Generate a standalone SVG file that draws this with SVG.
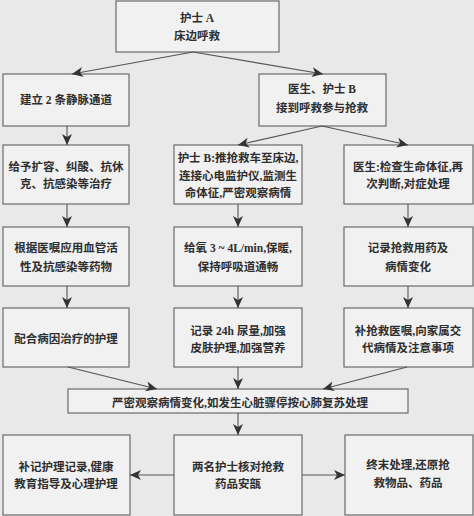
<svg xmlns="http://www.w3.org/2000/svg" width="474" height="516" viewBox="0 0 474 516">
<style>
.bx{fill:#f1f1f1;stroke:#6b6b6b;stroke-width:1.2}
.t{font-family:"Liberation Serif","Noto Sans CJK SC",serif;font-size:11.5px;fill:#2e2e2e;text-anchor:middle;font-weight:bold}
.c{stroke:#555;stroke-width:1.1;fill:none;marker-end:url(#ah)}
</style>
<defs>
<marker id="ah" markerUnits="userSpaceOnUse" markerWidth="12" markerHeight="12" viewBox="0 0 12 12" refX="11" refY="6" orient="auto">
<path d="M0,1 L11,6 L0,11 L3,6 Z" fill="#333"/>
</marker>
</defs>
<rect width="474" height="516" fill="#e9e9e9"/>
<g id="n1"><rect class="bx" x="116" y="1" width="163" height="51"/><text class="t" x="197" y="22">护士 A</text><text class="t" x="197" y="40">床边呼救</text></g>
<g id="n2"><rect class="bx" x="3" y="74" width="126" height="52"/><text class="t" x="66" y="104">建立 2 条静脉通道</text></g>
<g id="n3"><rect class="bx" x="259" y="74" width="127" height="52"/><text class="t" x="322" y="93">医生、护士 B</text><text class="t" x="322" y="112">接到呼救参与抢救</text></g>
<g id="n4"><rect class="bx" x="3" y="145" width="126" height="59"/><text class="t" x="66" y="171">给予扩容、纠酸、抗休</text><text class="t" x="66" y="188">克、抗感染等治疗</text></g>
<g id="n5"><rect class="bx" x="174" y="145" width="128" height="59"/><text class="t" x="238" y="162">护士 B:推抢救车至床边,</text><text class="t" x="238" y="180">连接心电监护仪,监测生</text><text class="t" x="238" y="197">命体征,严密观察病情</text></g>
<g id="n6"><rect class="bx" x="344" y="145" width="129" height="59"/><text class="t" x="408" y="171">医生:检查生命体征,再</text><text class="t" x="408" y="188">次判断,对症处理</text></g>
<g id="n7"><rect class="bx" x="3" y="227" width="126" height="59"/><text class="t" x="66" y="252">根据医嘱应用血管活</text><text class="t" x="66" y="271">性及抗感染等药物</text></g>
<g id="n8"><rect class="bx" x="174" y="227" width="128" height="59"/><text class="t" x="238" y="252">给氧 3 ~ 4L/min,保暖,</text><text class="t" x="238" y="271">保持呼吸道通畅</text></g>
<g id="n9"><rect class="bx" x="344" y="227" width="129" height="59"/><text class="t" x="408" y="252">记录抢救用药及</text><text class="t" x="408" y="271">病情变化</text></g>
<g id="n10"><rect class="bx" x="3" y="308" width="126" height="59"/><text class="t" x="66" y="343">配合病因治疗的护理</text></g>
<g id="n11"><rect class="bx" x="174" y="308" width="128" height="59"/><text class="t" x="238" y="335">记录 24h 尿量,加强</text><text class="t" x="238" y="352">皮肤护理,加强营养</text></g>
<g id="n12"><rect class="bx" x="344" y="308" width="129" height="59"/><text class="t" x="408" y="335">补抢救医嘱,向家属交</text><text class="t" x="408" y="352">代病情及注意事项</text></g>
<g id="n13"><rect class="bx" x="68" y="389" width="340" height="24"/><text class="t" x="240" y="407">严密观察病情变化,如发生心脏骤停按心肺复苏处理</text></g>
<g id="n14"><rect class="bx" x="3" y="435" width="127" height="80"/><text class="t" x="66" y="471">补记护理记录,健康</text><text class="t" x="66" y="488">教育指导及心理护理</text></g>
<g id="n15"><rect class="bx" x="174" y="435" width="128" height="80"/><text class="t" x="238" y="471">两名护士核对抢救</text><text class="t" x="238" y="488">药品安瓿</text></g>
<g id="n16"><rect class="bx" x="345" y="435" width="128" height="80"/><text class="t" x="408" y="469">终末处理,还原抢</text><text class="t" x="408" y="487">救物品、药品</text></g>
<g id="connectors">
<line class="c" x1="193" y1="52" x2="72" y2="74"/>
<line class="c" x1="193" y1="52" x2="323" y2="74"/>
<line class="c" x1="67" y1="126" x2="67" y2="145"/>
<line class="c" x1="322" y1="126" x2="238" y2="145"/>
<line class="c" x1="322" y1="126" x2="408" y2="145"/>
<line class="c" x1="67" y1="204" x2="67" y2="227"/>
<line class="c" x1="238" y1="204" x2="238" y2="227"/>
<line class="c" x1="408" y1="204" x2="408" y2="227"/>
<line class="c" x1="67" y1="286" x2="67" y2="308"/>
<line class="c" x1="238" y1="286" x2="238" y2="308"/>
<line class="c" x1="408" y1="286" x2="408" y2="308"/>
<line class="c" x1="68" y1="367" x2="157" y2="389"/>
<line class="c" x1="238" y1="367" x2="238" y2="389"/>
<line class="c" x1="407" y1="367" x2="323" y2="389"/>
<line class="c" x1="238" y1="413" x2="238" y2="435"/>
<line class="c" x1="174" y1="475" x2="130" y2="475"/>
<line class="c" x1="302" y1="475" x2="345" y2="475"/>
</g>
</svg>
